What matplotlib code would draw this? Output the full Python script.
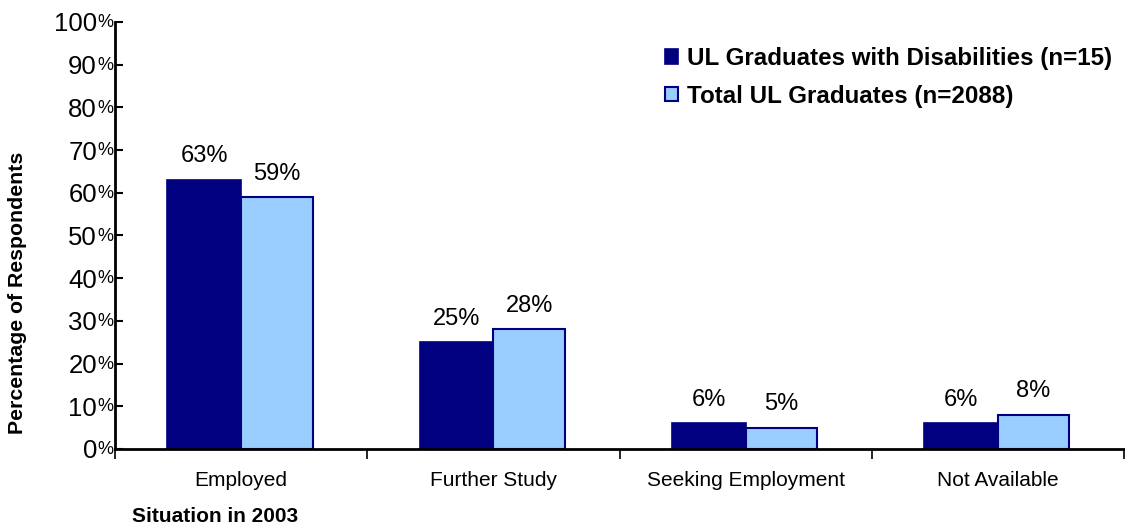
import matplotlib
matplotlib.use("Agg")
import matplotlib.pyplot as plt
import numpy as np

categories = ["Employed", "Further Study", "Seeking Employment", "Not Available"]
disab_vals = [63, 25, 6, 6]
total_vals = [59, 28, 5, 8]
series_names = ["UL Graduates with Disabilities (n=15)", "Total UL Graduates (n=2088)"]
yticks = [0, 10, 20, 30, 40, 50, 60, 70, 80, 90, 100]

plt.rcParams['font.family'] = ['Liberation Sans', 'DejaVu Sans']

W, H = 1125, 525
fig = plt.figure(figsize=(W / 100, H / 100), dpi=100)
ax = fig.add_axes([115 / W, 1 - 449 / H, (1124 - 115) / W, (449 - 22) / H])

dark = "#000080"
light = "#99CCFF"
x = np.arange(len(categories))
bw = 0.292
b1 = ax.bar(x - bw, disab_vals, width=bw, align='edge', color=dark, edgecolor=dark,
            linewidth=1.2, label=series_names[0], zorder=2)
b2 = ax.bar(x, total_vals, width=bw * 0.97, align='edge', color=light, edgecolor=dark,
            linewidth=1.5, label=series_names[1], zorder=2)

for bars, vals in ((b1, disab_vals), (b2, total_vals)):
    for r, v in zip(bars, vals):
        ax.annotate(f"{v}%", (r.get_x() + r.get_width() / 2, v), xytext=(0, 9),
                    textcoords='offset points', ha='center', va='bottom', fontsize=17)

ax.set_xlim(-0.5, len(categories) - 0.5)
ax.set_ylim(0, 100)

# y axis
ax.set_yticks(yticks)
ax.set_yticklabels([str(t) for t in yticks], fontsize=18.5)
ax.tick_params(axis='y', direction='in', length=6, width=1.5, pad=13)
for t in yticks:
    ax.annotate("%", (0, t), xycoords=('axes fraction', 'data'), xytext=(-1.5, -0.5),
                textcoords='offset points', ha='right', va='center', fontsize=13)

# x axis: ticks at category boundaries
ax.set_xticks(np.arange(len(categories) + 1) - 0.5)
ax.set_xticklabels([])
ax.set_xticks(x, minor=True)
ax.set_xticklabels(categories, minor=True, fontsize=15)
ax.tick_params(axis='x', which='major', direction='out', length=7, width=1.2)
ax.tick_params(axis='x', which='minor', length=0, pad=16)

for s in ('top', 'right'):
    ax.spines[s].set_visible(False)
ax.spines['left'].set_linewidth(2)
ax.spines['bottom'].set_linewidth(2)

fig.text(18 / W, 1 - 293 / H, "Percentage of Respondents", rotation=90, ha='center',
         va='center', fontsize=15.3, fontweight='bold')
fig.text(132 / W, 1 - 516 / H, "Situation in 2003", ha='left', va='center',
         fontsize=15, fontweight='bold')

leg = ax.legend(loc='upper left', bbox_to_anchor=(665 / W, 1 - 47 / H),
                bbox_transform=fig.transFigure, frameon=False, borderpad=0,
                borderaxespad=0, handlelength=0.55, handleheight=0.55,
                handletextpad=0.35, labelspacing=0.6,
                prop={'size': 17.4, 'weight': 'bold'})

fig.savefig("out.png", dpi=100)
